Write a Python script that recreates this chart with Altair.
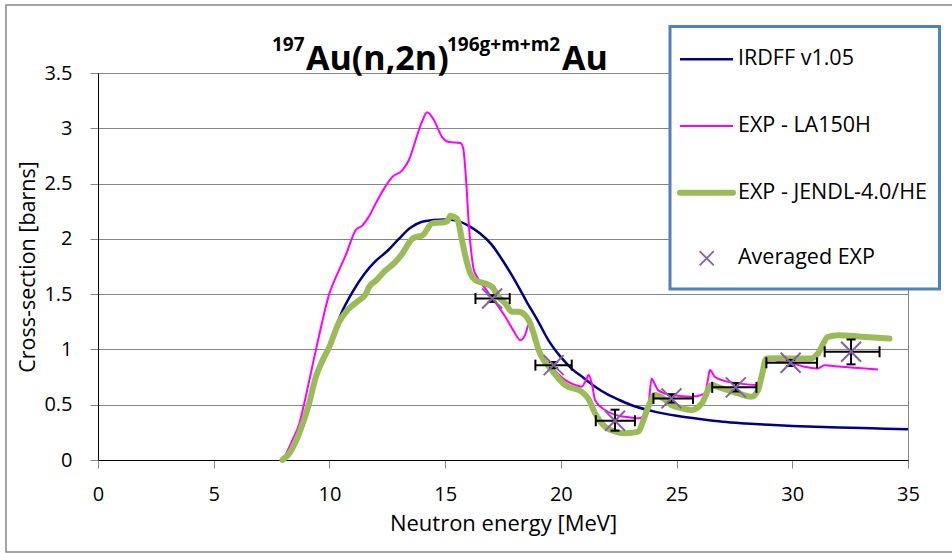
import altair as alt
import pandas as pd

# ---------------- data ----------------
series_names = ["IRDFF v1.05", "EXP - LA150H", "EXP - JENDL-4.0/HE", "Averaged EXP"]
series_colors = ["#000080", "#FF00FF", "#9BBB59", "#8064A2"]

irdff_x = [8.0, 8.3, 8.6, 8.9, 9.1, 9.3, 9.5, 9.75, 10.0, 10.5, 11.0, 11.5, 12.0, 12.5, 13.0,
           13.5, 14.0, 14.5, 15.0, 15.5, 16.0, 16.5, 17.0, 17.5, 18.0, 18.5, 19.0, 19.5, 20.0,
           20.5, 21.0, 21.5, 22.0, 22.5, 23.0, 24.0, 25.0, 26.0, 27.0, 28.0, 29.0, 30.0, 31.0,
           32.0, 33.0, 34.0, 35.0]
irdff_y = [0.0, 0.06, 0.17, 0.33, 0.5, 0.67, 0.8, 0.92, 1.04, 1.32, 1.52, 1.68, 1.80, 1.89, 2.00,
           2.10, 2.155, 2.17, 2.175, 2.165, 2.12, 2.05, 1.95, 1.80, 1.63, 1.44, 1.26, 1.07, 0.93,
           0.82, 0.74, 0.66, 0.595, 0.545, 0.50, 0.44, 0.40, 0.37, 0.345, 0.33, 0.318, 0.308, 0.30,
           0.295, 0.29, 0.283, 0.278]

la150_x = [8.0, 8.4, 8.7, 8.91, 9.15, 9.41, 9.7, 9.99, 10.13, 10.42, 10.7, 11.14, 11.42, 11.7,
           12.0, 12.35, 12.72, 13.15, 13.45, 13.72, 14.0, 14.22, 14.5, 14.87, 15.16, 15.66, 15.78,
           15.9, 16.02, 16.24, 16.38, 16.74, 17.0, 17.31, 17.6, 17.95, 18.25, 18.45, 18.6, 18.75,
           18.9, 19.04, 19.47, 20.19, 20.6, 20.9, 21.08, 21.2, 21.35, 21.48, 21.91, 22.5, 23.0,
           23.35, 23.6, 23.78, 23.92, 24.05, 24.2, 24.78, 25.65, 26.22, 26.35, 26.44, 26.65, 27.0,
           27.66, 28.52, 28.7, 28.95, 29.3, 30.0, 30.53, 31.1, 31.4, 32.0, 33.0, 33.7]
la150_y = [0.0, 0.18, 0.33, 0.51, 0.74, 0.99, 1.26, 1.5, 1.58, 1.72, 1.85, 2.08, 2.12, 2.2,
           2.32, 2.45, 2.56, 2.62, 2.72, 2.89, 3.06, 3.146, 3.08, 2.92, 2.875, 2.866, 2.82,
           2.55, 2.14, 1.72, 1.656, 1.55, 1.47, 1.385, 1.295, 1.17, 1.084, 1.13, 1.22, 1.24,
           1.10, 0.99, 0.874, 0.723, 0.68, 0.662, 0.72, 0.768, 0.68, 0.54, 0.452, 0.40, 0.385,
           0.377, 0.40, 0.482, 0.738, 0.69, 0.632, 0.587, 0.572, 0.60, 0.72, 0.813, 0.752, 0.72,
           0.693, 0.678, 0.72, 0.919, 0.90, 0.875, 0.843, 0.828, 0.858, 0.845, 0.83, 0.819]

jendl_x = [7.97, 8.3, 8.69, 9.12, 9.41, 9.7, 9.99, 10.42, 10.8, 11.28, 11.57, 11.71, 12.0, 12.43,
           12.8, 13.15, 13.58, 13.8, 14.01, 14.44, 14.94, 15.1, 15.23, 15.35, 15.52, 15.73, 15.88,
           16.09, 16.31, 16.74, 17.03, 17.31, 17.6, 17.89, 18.18, 18.61, 18.8, 19.04, 19.61, 20.19,
           20.9, 21.2, 21.48, 21.91, 22.3, 22.78, 23.35, 23.55, 23.78, 24.07, 24.4, 24.78, 25.2,
           25.65, 26.09, 26.52, 26.8, 27.66, 28.23, 28.52, 28.7, 28.88, 29.3, 29.81, 30.82, 31.11,
           31.54, 31.97, 33.0, 34.2]
jendl_y = [0.0, 0.07, 0.24, 0.51, 0.75, 0.9, 1.02, 1.25, 1.36, 1.445, 1.5, 1.565, 1.62, 1.716,
           1.78, 1.867, 2.0, 2.02, 2.03, 2.14, 2.15, 2.16, 2.21, 2.2, 2.18, 1.987, 1.84,
           1.686, 1.626, 1.596, 1.565, 1.475, 1.415, 1.34, 1.34, 1.265, 1.16, 0.994, 0.813, 0.678,
           0.617, 0.55, 0.422, 0.301, 0.26, 0.241, 0.256, 0.35, 0.482, 0.587, 0.56, 0.497, 0.47,
           0.452, 0.512, 0.678, 0.66, 0.602, 0.572, 0.632, 0.78, 0.919, 0.92, 0.919, 0.919, 0.964,
           1.114, 1.129, 1.115, 1.099]

avg_x = [17.03, 19.69, 22.34, 24.78, 27.56, 29.93, 32.54]
avg_y = [1.46, 0.858, 0.355, 0.557, 0.657, 0.879, 0.979]
avg_xlo = [16.31, 18.90, 21.51, 24.00, 26.54, 28.88, 31.40]
avg_xhi = [17.79, 20.47, 23.20, 25.71, 28.45, 31.07, 33.77]
avg_ylo = [1.43, 0.83, 0.265, 0.52, 0.62, 0.85, 0.865]
avg_yhi = [1.49, 0.886, 0.455, 0.595, 0.695, 0.905, 1.09]

x_ticks = [0, 5, 10, 15, 20, 25, 30, 35]
y_ticks = [0, 0.5, 1, 1.5, 2, 2.5, 3, 3.5]

# ---------------- tables ----------------
irdff_df = pd.DataFrame({"x": irdff_x, "y": irdff_y})
la150_df = pd.DataFrame({"x": la150_x, "y": la150_y})
jendl_df = pd.DataFrame({"x": jendl_x, "y": jendl_y})
avg_df = pd.DataFrame({"x": avg_x, "y": avg_y, "xlo": avg_xlo, "xhi": avg_xhi,
                       "ylo": avg_ylo, "yhi": avg_yhi})
xcap_df = pd.DataFrame({"x": avg_xlo + avg_xhi, "y": avg_y + avg_y})
ycap_df = pd.DataFrame({"x": avg_x + avg_x, "y": avg_ylo + avg_yhi})
one = pd.DataFrame({"k": [0]})

FONT = "Open Sans"

x_axis = alt.Axis(values=x_ticks, grid=False, labelFlush=False, labelFont=FONT, labelFontSize=20,
                  labelColor="#000000", tickSize=8, tickColor="#868686", domainColor="#000000",
                  labelBaseline="top", labelPadding=16, labelOverlap=False,
                  titleFont=FONT, titleFontSize=22, titleFontWeight="normal", titleColor="#000000",
                  titleX=405, titleY=70, titleAlign="center", titleBaseline="alphabetic")
y_axis = alt.Axis(values=y_ticks, grid=True, gridColor="#868686", gridWidth=1,
                  labelFlush=False, labelFont=FONT, labelFontSize=20, labelColor="#000000",
                  labelExpr="'' + datum.value", tickSize=8, tickColor="#868686",
                  domainColor="#000000", labelPadding=18, labelOverlap=False,
                  titleFont=FONT, titleFontSize=21.5, titleFontWeight="normal", titleColor="#000000",
                  titleX=-70, titleY=193.5, titleAngle=270, titleAlign="center",
                  titleBaseline="middle")
x_scale = alt.Scale(domain=[0, 35], nice=False, zero=False)
y_scale = alt.Scale(domain=[0, 3.5], nice=False, zero=False)


def xy(xf="x:Q", yf="y:Q"):
    return dict(
        x=alt.X(xf, scale=x_scale, axis=x_axis, title="Neutron energy [MeV]"),
        y=alt.Y(yf, scale=y_scale, axis=y_axis, title="Cross-section [barns]"),
    )


line_irdff = alt.Chart(irdff_df).mark_line(
    color=series_colors[0], strokeWidth=2.5, interpolate="monotone").encode(**xy())
line_la150 = alt.Chart(la150_df).mark_line(
    color=series_colors[1], strokeWidth=2, interpolate="monotone").encode(**xy())
line_jendl = alt.Chart(jendl_df).mark_line(
    color=series_colors[2], strokeWidth=6, interpolate="monotone",
    strokeCap="round", strokeJoin="round").encode(**xy())

xerr = alt.Chart(avg_df).mark_rule(color="#000000", strokeWidth=2).encode(
    x=alt.X("xlo:Q", scale=x_scale, axis=x_axis, title="Neutron energy [MeV]"),
    x2="xhi:Q",
    y=alt.Y("y:Q", scale=y_scale, axis=y_axis, title="Cross-section [barns]"))
yerr = alt.Chart(avg_df).mark_rule(color="#000000", strokeWidth=2).encode(
    x=alt.X("x:Q", scale=x_scale, axis=x_axis, title="Neutron energy [MeV]"),
    y=alt.Y("ylo:Q", scale=y_scale, axis=y_axis, title="Cross-section [barns]"),
    y2="yhi:Q")
xcaps = alt.Chart(xcap_df).mark_tick(orient="vertical", size=11, thickness=2,
                                     color="#000000", opacity=1).encode(**xy())
ycaps = alt.Chart(ycap_df).mark_tick(orient="horizontal", size=9, thickness=2,
                                     color="#000000", opacity=1).encode(**xy())

XPATH = "M-1,-1L1,1M-1,1L1,-1"
points = alt.Chart(avg_df).mark_point(shape=XPATH, size=400, strokeWidth=2, filled=False,
                                      color=series_colors[3], opacity=1).encode(**xy())

# ---------------- decorations (outer frame, title, legend) ----------------
frame = alt.Chart(one).mark_rect(fill="transparent", stroke="#888888", strokeWidth=1.5).encode(
    x=alt.value(-92), x2=alt.value(860), y=alt.value(-68), y2=alt.value(479))

t_style = dict(font=FONT, fontWeight="bold", align="left", baseline="alphabetic", color="#000000")
title_parts = [
    alt.Chart(one).mark_text(text="197", fontSize=19, **t_style).encode(
        x=alt.value(174), y=alt.value(-22)),
    alt.Chart(one).mark_text(text="Au(n,2n)", fontSize=34, **t_style).encode(
        x=alt.value(208), y=alt.value(-3)),
    alt.Chart(one).mark_text(text="196g+m+m2", fontSize=19, **t_style).encode(
        x=alt.value(349), y=alt.value(-22)),
    alt.Chart(one).mark_text(text="Au", fontSize=34, **t_style).encode(
        x=alt.value(464), y=alt.value(-3)),
]

leg_box = alt.Chart(one).mark_rect(fill="#FFFFFF", stroke="#4F81BD", strokeWidth=3).encode(
    x=alt.value(572), x2=alt.value(841.5), y=alt.value(-46.5), y2=alt.value(216))
rows_y = [-13.7, 53, 119.7, 185.3]
leg_widths = [2.5, 2, 6]
leg_items = []
for i in range(3):
    leg_items.append(alt.Chart(one).mark_rule(color=series_colors[i], strokeWidth=leg_widths[i],
                                              strokeCap="round" if i == 2 else "butt").encode(
        x=alt.value(582), x2=alt.value(635), y=alt.value(rows_y[i])))
leg_items.append(alt.Chart(one).mark_point(shape=XPATH, size=200, strokeWidth=1.8, filled=False,
                                           color=series_colors[3], opacity=1).encode(
    x=alt.value(608.7), y=alt.value(rows_y[3])))
for i in range(4):
    leg_items.append(alt.Chart(one).mark_text(text=series_names[i], font=FONT, fontSize=21.5,
                                              align="left", baseline="middle",
                                              color="#000000").encode(
        x=alt.value(640), y=alt.value(rows_y[i])))

chart = alt.layer(
    line_irdff, line_la150, line_jendl, xerr, yerr, xcaps, ycaps, points,
    frame, *title_parts, leg_box, *leg_items
).properties(
    width=810, height=387,
    autosize=alt.AutoSizeParams(type="none"),
    padding={"left": 98, "top": 73, "right": 44, "bottom": 93},
    background="#FFFFFF",
).configure_view(stroke="#868686", strokeWidth=1)

chart.save("out.html", embed_options={"renderer": "svg", "actions": False})
